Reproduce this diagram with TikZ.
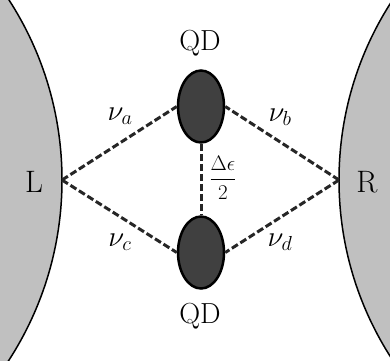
\RequirePackage{fix-cm}
\documentclass[tikz,border=0pt]{standalone}
\usepackage{amsmath}
\usepackage{fontspec}
\usetikzlibrary{shapes.geometric}
\begin{document}
\begin{tikzpicture}[x=1pt,y=-1pt,
  lead/.style={fill=leadgray,draw=black,line width=1.5pt},
  dot/.style={ellipse,draw=black,fill=dotgray,line width=2.5pt,minimum width=46pt,minimum height=72pt,inner sep=0pt},
  link/.style={dash pattern=on 7pt off 3pt,line width=3pt,draw=black!85},
  lbl/.style={font=\fontsize{29}{33}\selectfont,inner sep=0pt},
  side/.style={font=\fontsize{31}{35}\selectfont,inner sep=0pt},
  nu/.style={font=\fontsize{29}{33}\selectfont,inner sep=0pt}]
\definecolor{leadgray}{HTML}{C0C0C0}
\definecolor{dotgray}{HTML}{404040}
\useasboundingbox (0,0) rectangle (390,360);
\begin{scope}
\clip (0,0) rectangle (390,360);
\draw[lead] (-270,180) circle (332);
\draw[lead] (668,180) circle (329);
\end{scope}
\coordinate (L) at (62,180);
\coordinate (R) at (339,180);
\node[side] (Ltext) at (34,182) {L};
\node[side] (Rtext) at (367,182) {R};
\node[dot] (qd1) at (201,106.5) {};
\node[dot] (qd2) at (201,252.5) {};
\node[lbl] (qd1t) at (200,43) {QD};
\node[lbl] (qd2t) at (200,316) {QD};
\draw[link] (L) -- (qd1.west);
\draw[link] (L) -- (qd2.west);
\draw[link] (R) -- (qd1.east);
\draw[link] (R) -- (qd2.east);
\draw[link] (qd1.south) -- (qd2.north);
\node[nu] (na) at (120,116) {$\nu_a$};
\node[nu] (nb) at (280,117) {$\nu_b$};
\node[nu] (nc) at (120,242) {$\nu_c$};
\node[nu] (nd) at (280,242) {$\nu_d$};
\node[font=\fontsize{21}{25}\selectfont,inner sep=0pt] (de) at (223,178) {$\dfrac{\Delta\epsilon}{2}$};
\end{tikzpicture}
\end{document}
